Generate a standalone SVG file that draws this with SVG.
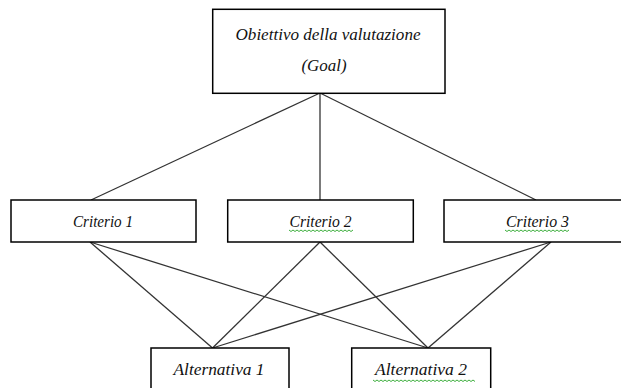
<svg xmlns="http://www.w3.org/2000/svg" width="621" height="388" viewBox="0 0 621 388">
<style>
.box{fill:#fff;stroke:#000;stroke-width:1.5}
.lbl{font-family:"Liberation Serif","Times New Roman",serif;font-style:italic;font-size:16px;fill:#111;text-anchor:middle}
.conn line{stroke:#333;stroke-width:1.3}
.wave{fill:none;stroke:#3cae3c;stroke-width:1}
</style>
<rect width="621" height="388" fill="#fff"/>
<g class="conn" id="connectors">
<line x1="320" y1="93" x2="91" y2="200"/>
<line x1="320" y1="93" x2="320" y2="200"/>
<line x1="320" y1="93" x2="536" y2="200"/>
<line x1="90" y1="242" x2="212.5" y2="348"/>
<line x1="90" y1="242" x2="428" y2="348"/>
<line x1="320" y1="242" x2="212.5" y2="348"/>
<line x1="320" y1="242" x2="428" y2="348"/>
<line x1="551" y1="242" x2="212.5" y2="348"/>
<line x1="551" y1="242" x2="428" y2="348"/>
</g>
<g id="goal">
<rect class="box" x="212.7" y="9.3" width="232.3" height="84"/>
<text class="lbl" x="328" y="40" textLength="185" lengthAdjust="spacingAndGlyphs">Obiettivo della valutazione</text>
<text class="lbl" x="324" y="71" textLength="45" lengthAdjust="spacingAndGlyphs">(Goal)</text>
</g>
<g id="criterio1">
<rect class="box" x="11" y="200" width="185" height="42"/>
<text class="lbl" x="103" y="227" textLength="60" lengthAdjust="spacingAndGlyphs">Criterio 1</text>
</g>
<g id="criterio2">
<rect class="box" x="227.7" y="200" width="185.6" height="42"/>
<text class="lbl" x="320.5" y="227" textLength="62" lengthAdjust="spacingAndGlyphs">Criterio 2</text>
<path class="wave" d="M289 230 l2 1.5 l2 -1.5 l2 1.5 l2 -1.5 l2 1.5 l2 -1.5 l2 1.5 l2 -1.5 l2 1.5 l2 -1.5 l2 1.5 l2 -1.5 l2 1.5 l2 -1.5 l2 1.5 l2 -1.5 l2 1.5 l2 -1.5 l2 1.5 l2 -1.5 l2 1.5 l2 -1.5 l2 1.5 l2 -1.5 l2 1.5 l2 -1.5 l2 1.5 l2 -1.5 l2 1.5 l2 -1.5 l2 1.5 l2 -1.5"/>
</g>
<g id="criterio3">
<rect class="box" x="444" y="200" width="187" height="42"/>
<text class="lbl" x="537.5" y="227" textLength="63" lengthAdjust="spacingAndGlyphs">Criterio 3</text>
<path class="wave" d="M505 230 l2 1.5 l2 -1.5 l2 1.5 l2 -1.5 l2 1.5 l2 -1.5 l2 1.5 l2 -1.5 l2 1.5 l2 -1.5 l2 1.5 l2 -1.5 l2 1.5 l2 -1.5 l2 1.5 l2 -1.5 l2 1.5 l2 -1.5 l2 1.5 l2 -1.5 l2 1.5 l2 -1.5 l2 1.5 l2 -1.5 l2 1.5 l2 -1.5 l2 1.5 l2 -1.5 l2 1.5 l2 -1.5 l2 1.5 l2 -1.5"/>
</g>
<g id="alternativa1">
<rect class="box" x="151" y="348" width="138" height="50"/>
<text class="lbl" x="219" y="375" textLength="91" lengthAdjust="spacingAndGlyphs">Alternativa 1</text>
</g>
<g id="alternativa2">
<rect class="box" x="351.7" y="348" width="139" height="50"/>
<text class="lbl" x="421" y="375" textLength="92" lengthAdjust="spacingAndGlyphs">Alternativa 2</text>
<path class="wave" d="M373 380 l2 1.5 l2 -1.5 l2 1.5 l2 -1.5 l2 1.5 l2 -1.5 l2 1.5 l2 -1.5 l2 1.5 l2 -1.5 l2 1.5 l2 -1.5 l2 1.5 l2 -1.5 l2 1.5 l2 -1.5 l2 1.5 l2 -1.5 l2 1.5 l2 -1.5 l2 1.5 l2 -1.5 l2 1.5 l2 -1.5 l2 1.5 l2 -1.5 l2 1.5 l2 -1.5 l2 1.5 l2 -1.5 l2 1.5 l2 -1.5 l2 1.5 l2 -1.5 l2 1.5 l2 -1.5 l2 1.5 l2 -1.5 l2 1.5 l2 -1.5 l2 1.5 l2 -1.5 l2 1.5 l2 -1.5 l2 1.5 l2 -1.5 l2 1.5 l2 -1.5 l2 1.5 l2 -1.5 l2 1.5"/>
</g>
</svg>
